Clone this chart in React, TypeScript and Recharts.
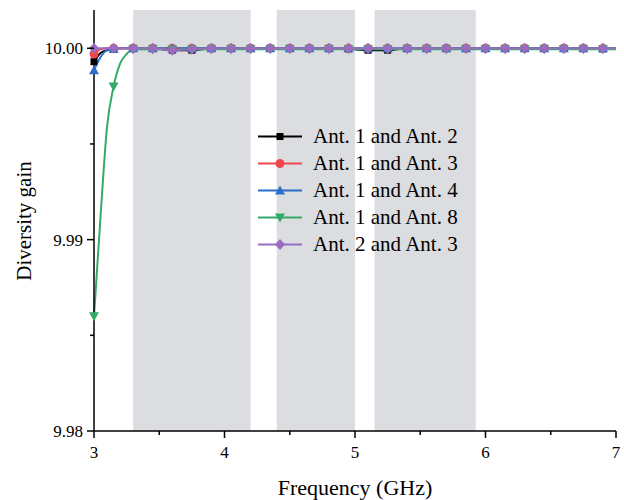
import React from "react";
import { LineChart, Line, XAxis, YAxis, ReferenceArea } from "recharts";

// frequency samples (GHz); markers every 0.15 GHz
const freqs = [
  3.0, 3.05, 3.1, 3.15, 3.2, 3.25, 3.3, 3.45, 3.6, 3.75, 3.9, 4.05, 4.2, 4.35,
  4.5, 4.65, 4.8, 4.95, 5.1, 5.25, 5.4, 5.55, 5.7, 5.85, 6.0, 6.15, 6.3, 6.45,
  6.6, 6.75, 6.9, 7.0,
];

const ant12 = [
  9.9993, 9.99975, 9.9999, 9.99995, 10, 10, 10, 10, 9.9999, 9.9999, 10, 10, 10,
  10, 10, 10, 10, 9.99997, 9.9999, 9.9999, 10, 10, 10, 10, 10, 10, 10, 10, 10,
  10, 9.99997, 9.99997,
];
const ant13 = [
  9.9997, 9.99995, 10, 10, 10, 10, 10, 10, 10, 10, 10, 10, 10, 10, 10, 10, 10,
  10, 10, 10, 10, 10, 10, 10, 10, 10, 10, 10, 10, 10, 10, 10,
];
const ant14 = [
  9.99885, 9.99953, 9.9999, 9.99998, 10, 10, 10, 10, 10, 10, 10, 10, 10, 10, 10,
  10, 10, 10, 10, 10, 10, 10, 10, 10, 10, 10, 10, 10, 10, 10, 10, 10,
];
const ant18 = [
  9.986, 9.9912, 9.9959, 9.998, 9.9992, 9.9997, 9.99993, 9.99995, 9.99993,
  9.99993, 9.99995, 9.99995, 9.99995, 9.99995, 9.99995, 9.99995, 9.99995,
  9.99995, 9.99995, 9.99995, 9.99995, 9.99995, 9.99995, 9.99995, 9.99995,
  9.99995, 9.99995, 9.99995, 9.99995, 9.99995, 9.99995, 9.99995,
];
const ant23 = [
  10, 10, 10, 10, 10, 10, 10, 10, 9.9999, 9.99995, 10, 10, 10, 10, 10, 10, 10,
  10, 10, 10, 10, 10, 10, 10, 10, 10, 10, 10, 10, 10, 10, 10,
];

// shaded operating bands (GHz)
const bands = [
  [3.3, 4.2],
  [4.4, 5.0],
  [5.15, 5.925],
];

const xTicks = [3, 3.5, 4, 4.5, 5, 5.5, 6, 6.5, 7];
const yTicks = [9.98, 9.985, 9.99, 9.995, 10.0];

const series = [
  { key: "a12", name: "Ant. 1 and Ant. 2", color: "#000000", shape: "square", values: ant12 },
  { key: "a13", name: "Ant. 1 and Ant. 3", color: "#f0474f", shape: "circle", values: ant13 },
  { key: "a14", name: "Ant. 1 and Ant. 4", color: "#2b6fcb", shape: "up", values: ant14 },
  { key: "a18", name: "Ant. 1 and Ant. 8", color: "#33aa6a", shape: "down", values: ant18 },
  { key: "a23", name: "Ant. 2 and Ant. 3", color: "#9a6cbf", shape: "diamond", values: ant23 },
];

const data = freqs.map((f, i) => {
  const row: Record<string, number> = { f };
  series.forEach((s) => (row[s.key] = s.values[i]));
  return row;
});

const FONT = "Liberation Serif, Times New Roman, serif";

function Marker({ cx, cy, shape, color }: any) {
  if (shape === "square")
    return <rect x={cx - 3.5} y={cy - 3.5} width={7} height={7} fill={color} />;
  if (shape === "circle") return <circle cx={cx} cy={cy} r={4.5} fill={color} />;
  if (shape === "up")
    return <path d={`M${cx},${cy - 5} L${cx + 5},${cy + 4} L${cx - 5},${cy + 4}Z`} fill={color} />;
  if (shape === "down")
    return <path d={`M${cx},${cy + 5} L${cx + 5},${cy - 4} L${cx - 5},${cy - 4}Z`} fill={color} />;
  return <path d={`M${cx},${cy - 5.5} L${cx + 5},${cy} L${cx},${cy + 5.5} L${cx - 5},${cy}Z`} fill={color} />;
}

const makeDot = (shape: string, color: string) => (props: any) => {
  const f = props.payload.f;
  const step = Math.round((f - 3) * 100);
  const key = `${props.index}`;
  if (step % 15 !== 0 || f > 6.95) return <g key={key} />;
  return <Marker key={key} cx={props.cx} cy={props.cy} shape={shape} color={color} />;
};

// plot box edges
const LEFT = 94;
const RIGHT = 616;
const TOP = 10;
const BOTTOM = 431;

const renderXTick = ({ x, payload }: any) => {
  const major = Number.isInteger(payload.value);
  return (
    <g key={payload.value}>
      <line x1={x} y1={BOTTOM} x2={x} y2={BOTTOM + (major ? 7 : 4)} stroke="#000" strokeWidth={1.5} />
      {major && (
        <text x={x} y={BOTTOM + 27} textAnchor="middle" fontFamily={FONT} fontSize={17} fill="#000">
          {payload.value}
        </text>
      )}
    </g>
  );
};

const renderYTick = ({ y, payload }: any) => {
  const v = payload.value;
  const major = Math.abs(v * 100 - Math.round(v * 100)) < 1e-6;
  return (
    <g key={v}>
      <line x1={LEFT} y1={y} x2={LEFT - (major ? 7 : 4)} y2={y} stroke="#000" strokeWidth={1.5} />
      {major && (
        <text x={LEFT - 11} y={y + 6} textAnchor="end" fontFamily={FONT} fontSize={17} fill="#000">
          {v.toFixed(2)}
        </text>
      )}
    </g>
  );
};

const yTitle = () => (
  <text
    transform="translate(31,221) rotate(-90)"
    textAnchor="middle"
    fontFamily={FONT}
    fontSize={21}
    fill="#000"
  >
    Diversity gain
  </text>
);

export default function App() {
  return (
    <div style={{ position: "absolute", left: 0, top: 0, width: 624, height: 500, background: "#fff" }}>
      <LineChart
        width={624}
        height={500}
        data={data}
        margin={{ top: TOP, right: 624 - RIGHT, left: 0, bottom: 0 }}
      >
        <XAxis
          dataKey="f"
          type="number"
          domain={[3, 7]}
          ticks={xTicks}
          tick={renderXTick}
          tickLine={false}
          axisLine={{ stroke: "#000", strokeWidth: 1.5 }}
          height={500 - BOTTOM}
          interval={0}
          label={{
            value: "Frequency (GHz)",
            position: "insideBottom",
            offset: 5,
            style: { fontFamily: FONT, fontSize: 22, fill: "#000" },
          }}
        />
        <XAxis
          xAxisId="top"
          orientation="top"
          dataKey="f"
          type="number"
          domain={[3, 7]}
          tick={false}
          tickLine={false}
          axisLine={{ stroke: "#000", strokeWidth: 1.5 }}
          height={0}
        />
        <YAxis
          type="number"
          domain={[9.98, 10.002]}
          ticks={yTicks}
          tick={renderYTick}
          tickLine={false}
          axisLine={{ stroke: "#000", strokeWidth: 1.5 }}
          width={LEFT}
          interval={0}
          allowDataOverflow
          label={{ content: yTitle }}
        />
        <YAxis
          yAxisId="right"
          orientation="right"
          domain={[9.98, 10.002]}
          tick={false}
          tickLine={false}
          axisLine={{ stroke: "#000", strokeWidth: 1.5 }}
          width={0}
        />
        {bands.map(([a, b]) => (
          <ReferenceArea
            key={a}
            x1={a}
            x2={b}
            y1={9.98}
            y2={10.002}
            fill="#dcdde0"
            fillOpacity={1}
            stroke="none"
            ifOverflow="hidden"
          />
        ))}
        {series.map((s) => (
          <Line
            key={s.key}
            dataKey={s.key}
            name={s.name}
            type="monotone"
            stroke={s.color}
            strokeWidth={2}
            dot={makeDot(s.shape, s.color)}
            activeDot={false}
            isAnimationActive={false}
          />
        ))}
      </LineChart>
      <div
        style={{
          position: "absolute",
          left: 257,
          top: 123,
          fontFamily: FONT,
          fontSize: 21,
          lineHeight: "27px",
          color: "#000",
        }}
      >
        {series.map((s) => (
          <div key={s.key} style={{ display: "flex", alignItems: "center", whiteSpace: "nowrap" }}>
            <svg width={56} height={27}>
              <line x1={1} y1={13.5} x2={45} y2={13.5} stroke={s.color} strokeWidth={2} />
              <Marker cx={23} cy={13.5} shape={s.shape} color={s.color} />
            </svg>
            <span>{s.name}</span>
          </div>
        ))}
      </div>
    </div>
  );
}
